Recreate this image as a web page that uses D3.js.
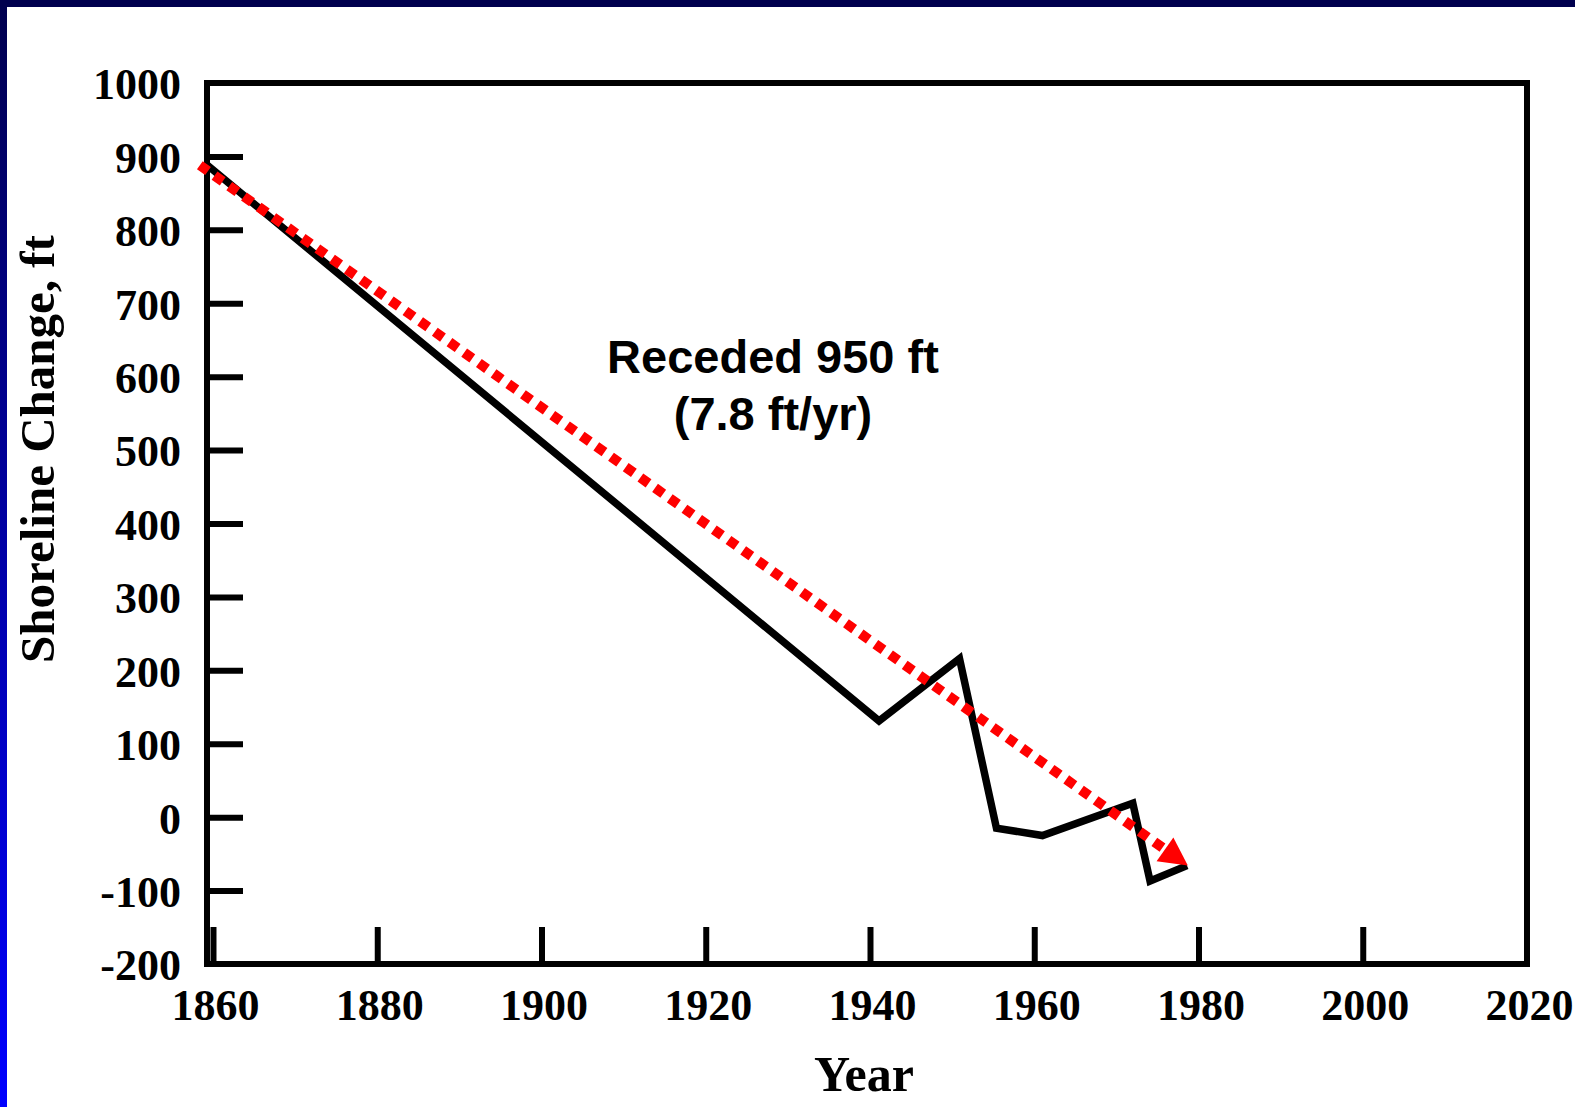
<!DOCTYPE html>
<html>
<head>
<meta charset="utf-8">
<script src="https://cdn.jsdelivr.net/npm/d3@7"></script>
<style>
html,body{margin:0;padding:0;background:#fff;overflow:hidden;}
</style>
</head>
<body>
<script>
// Data
const years = [1859.3, 1941.1, 1950.9, 1955.4, 1961.0, 1972.0, 1974.1, 1978.6];
const shoreline = [888, 131, 216, -15, -25, 19, -87, -66];
const trendYears = [1858.4, 1978.7];
const trendValues = [888, -66];
const xTicks = [1860, 1880, 1900, 1920, 1940, 1960, 1980, 2000, 2020];
const yTicks = [-200, -100, 0, 100, 200, 300, 400, 500, 600, 700, 800, 900, 1000];
const annotation = ["Receded 950 ft", "(7.8 ft/yr)"];

const W = 1575, H = 1107;
const svg = d3.select("body").append("svg").attr("width", W).attr("height", H);

const defs = svg.append("defs");
const grad = defs.append("linearGradient").attr("id", "lg").attr("x1", 0).attr("y1", 0).attr("x2", 0).attr("y2", 1);
grad.append("stop").attr("offset", "0%").attr("stop-color", "#00004e");
grad.append("stop").attr("offset", "100%").attr("stop-color", "#0000ff");

svg.append("rect").attr("width", W).attr("height", H).attr("fill", "#fff");
svg.append("rect").attr("x", 0).attr("y", 0).attr("width", 7).attr("height", H).attr("fill", "url(#lg)");
svg.append("rect").attr("x", 0).attr("y", 0).attr("width", W).attr("height", 7).attr("fill", "#00004e");

const L = 207, R = 1527, T = 83, B = 964;
const x = d3.scaleLinear().domain([1859.27, 2020]).range([L, R]);
const y = d3.scaleLinear().domain([-200, 1000]).range([B, T]);

const serif = "'Liberation Serif', 'Times New Roman', serif";
const fmt = d => String(d);

// Y axis
const yAxis = svg.append("g").attr("transform", `translate(${L},0)`)
  .call(d3.axisLeft(y).tickValues(yTicks).tickSize(-36).tickPadding(26).tickFormat(fmt));
yAxis.select(".domain").remove();
yAxis.selectAll(".tick line").attr("stroke", "#000").attr("stroke-width", 6)
  .attr("opacity", d => (d === 1000 || d === -200) ? 0 : 1);
yAxis.selectAll(".tick text").attr("font-family", serif).attr("font-weight", "bold")
  .attr("font-size", 44).attr("fill", "#000").attr("dy", "0.36em");

// X axis
const xAxis = svg.append("g").attr("transform", `translate(0,${B})`)
  .call(d3.axisBottom(x).tickValues(xTicks).tickSize(-37).tickPadding(25).tickFormat(fmt));
xAxis.select(".domain").remove();
xAxis.selectAll(".tick line").attr("stroke", "#000").attr("stroke-width", 6)
  .attr("opacity", d => d === 2020 ? 0 : 1);
xAxis.selectAll(".tick text").attr("font-family", serif).attr("font-weight", "bold")
  .attr("font-size", 44).attr("fill", "#000").attr("dx", 2);

// Box
svg.append("rect").attr("x", L).attr("y", T).attr("width", R - L).attr("height", B - T)
  .attr("fill", "none").attr("stroke", "#000").attr("stroke-width", 6);

// Data line
const line = d3.line().x((d, i) => x(years[i])).y((d, i) => y(shoreline[i]));
svg.append("path").attr("d", line(shoreline)).attr("fill", "none")
  .attr("stroke", "#000").attr("stroke-width", 7.5).attr("stroke-linejoin", "miter");

// Trend arrow
const x0 = x(trendYears[0]), y0 = y(trendValues[0]);
const x1 = x(trendYears[1]), y1 = y(trendValues[1]);
const ang = Math.atan2(y1 - y0, x1 - x0);
const headLen = 28, headW = 29;
const bx = x1 - headLen * Math.cos(ang), by = y1 - headLen * Math.sin(ang);
svg.append("line").attr("x1", x0).attr("y1", y0).attr("x2", bx).attr("y2", by)
  .attr("stroke", "#ff0000").attr("stroke-width", 10).attr("stroke-dasharray", "10,8");
const px = -Math.sin(ang) * headW / 2, py = Math.cos(ang) * headW / 2;
svg.append("path").attr("d", `M${x1},${y1}L${bx + px},${by + py}L${bx - px},${by - py}Z`).attr("fill", "#ff0000");

// Annotation
const ann = svg.append("text").attr("font-family", "'Liberation Sans', Arial, sans-serif")
  .attr("font-weight", "bold").attr("font-size", 47).attr("text-anchor", "middle").attr("fill", "#000");
ann.append("tspan").attr("x", 773).attr("y", 373).text(annotation[0]);
ann.append("tspan").attr("x", 773).attr("y", 430).text(annotation[1]);

// Axis titles
svg.append("text").attr("transform", "translate(54,449) rotate(-90)").attr("text-anchor", "middle")
  .attr("font-family", serif).attr("font-weight", "bold").attr("font-size", 49).attr("fill", "#000")
  .text("Shoreline Change, ft");
svg.append("text").attr("x", 864).attr("y", 1091).attr("text-anchor", "middle")
  .attr("font-family", serif).attr("font-weight", "bold").attr("font-size", 50).attr("fill", "#000")
  .text("Year");
</script>
</body>
</html>
